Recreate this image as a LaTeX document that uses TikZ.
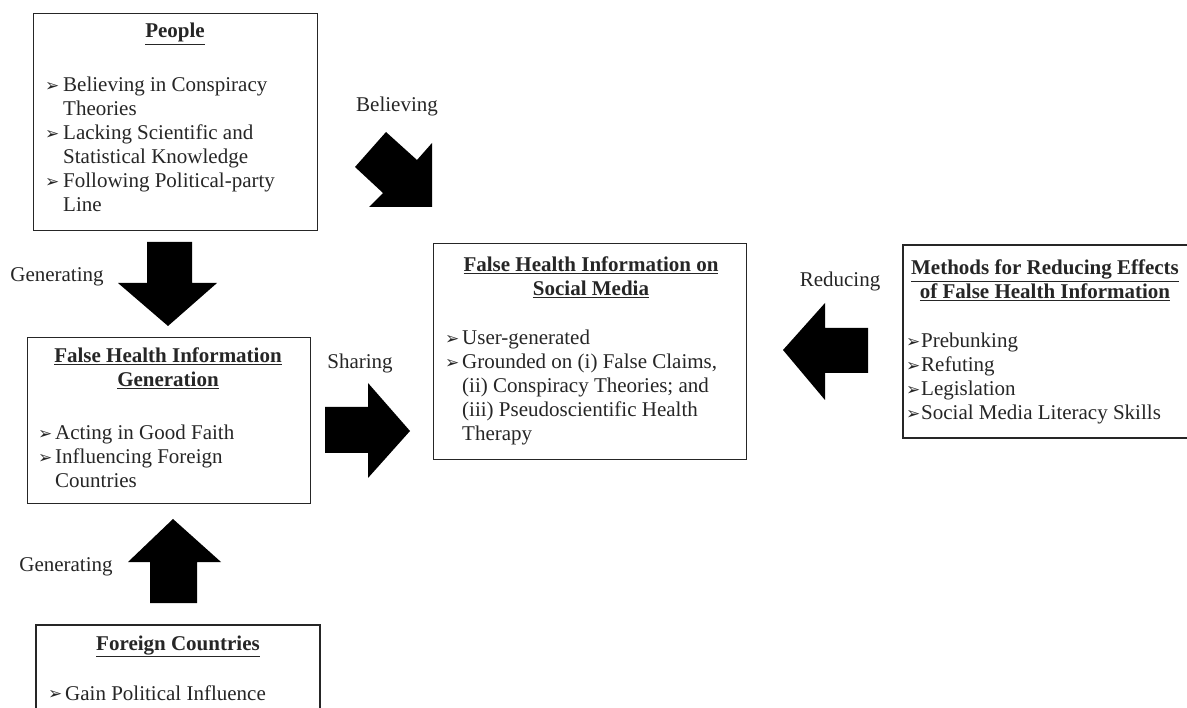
\documentclass[tikz,border=0pt]{standalone}
\usepackage{fontspec}
\setmainfont{Liberation Serif}
\newfontfamily\dejavu{DejaVu Sans}
\newcommand\bul[1]{\makebox[#1][l]{\dejavu\fontsize{17}{17}\selectfont\raisebox{0.5pt}{➢}}}
\newcommand\txtsize{\fontsize{21}{24}\selectfont}
\newcommand\ttl[1]{\textbf{\underline{#1}}}
\begin{document}
\begin{tikzpicture}[x=1pt,y=-1pt,
  box/.style={draw=black!85, line width=1.3pt},
  arr/.style={fill=black, draw=none},
  lbl/.style={font=\txtsize, text=black!85, inner sep=0pt},
  tx/.style={font=\txtsize, text=black!85, inner sep=0pt, anchor=base west},
  ttlnode/.style={font=\txtsize, text=black!85, inner sep=0pt, anchor=base}]
\useasboundingbox[fill=white] (0,0) rectangle (1187,708);

% boxes
\node[box, anchor=north west, minimum width=284pt, minimum height=217pt] (people) at (33,13) {};
\node[box, anchor=north west, minimum width=283pt, minimum height=166pt] (gen) at (27,337) {};
\node[box, anchor=north west, minimum width=313pt, minimum height=216pt] (central) at (433,243) {};
\draw[box] (36,715) coordinate (fbl) -- (36,625) coordinate (ftl) -- (320,625) coordinate (ftr) -- (320,715) coordinate (fbr);
\draw[box] (1195,245) coordinate (mtr) -- (903,245) coordinate (mtl) -- (903,438) coordinate (mbl) -- (1195,438) coordinate (mbr);

% people
\node[ttlnode] (peopleT) at (175,38) {\parbox[t]{260pt}{\centering\ttl{People}}};
\node[tx] (peopleL) at (45,92) {\parbox[t]{270pt}{\raggedright
  \bul{18pt}Believing in Conspiracy\\
  \hspace*{18pt}Theories\\
  \bul{18pt}Lacking Scientific and\\
  \hspace*{18pt}Statistical Knowledge\\
  \bul{18pt}Following Political-party\\
  \hspace*{18pt}Line}};

% generation
\node[ttlnode] (genT) at (168,363) {\parbox[t]{270pt}{\centering\ttl{False Health Information}\\ \ttl{Generation}}};
\node[tx] (genL) at (38,440) {\parbox[t]{270pt}{\raggedright
  \bul{17pt}Acting in Good Faith\\
  \bul{17pt}Influencing Foreign\\
  \hspace*{17pt}Countries}};

% foreign
\node[ttlnode] (forT) at (178,650) {\parbox[t]{270pt}{\centering\ttl{Foreign Countries}}};
\node[tx] (forL) at (48,700) {\parbox[t]{270pt}{\raggedright
  \bul{17pt}Gain Political Influence}};

% central
\node[ttlnode] (cenT) at (591,272) {\parbox[t]{300pt}{\centering\ttl{False Health Information on}\\ \ttl{Social Media}}};
\node[tx] (cenL) at (445,345) {\parbox[t]{300pt}{\raggedright
  \bul{17pt}User-generated\\
  \bul{17pt}Grounded on (i) False Claims,\\
  \hspace*{17pt}(ii) Conspiracy Theories; and\\
  \hspace*{17pt}(iii) Pseudoscientific Health\\
  \hspace*{17pt}Therapy}};

% methods
\node[ttlnode] (metT) at (1045,275) {\parbox[t]{300pt}{\centering\ttl{Methods for Reducing Effects}\\ \ttl{of False Health Information}}};
\node[tx] (metL) at (906,348) {\parbox[t]{290pt}{\raggedright
  \bul{15pt}Prebunking\\
  \bul{15pt}Refuting\\
  \bul{15pt}Legislation\\
  \bul{15pt}Social Media Literacy Skills}};

% block arrows
\fill[arr] (355,167) -- (386,132) -- (417,160) -- (432,143) -- (432,207) -- (369,207) -- (383,193) -- cycle;
\fill[arr] (147,242) -- (192,242) -- (192,283) -- (217,283) -- (168,326) -- (118,283) -- (147,283) -- cycle;
\fill[arr] (150,603) -- (197,603) -- (197,562) -- (221,562) -- (173,519) -- (128,562) -- (150,562) -- cycle;
\fill[arr] (325,407) -- (368,407) -- (368,383) -- (410,431) -- (368,478) -- (368,453) -- (325,453) -- cycle;
\fill[arr] (868,328) -- (825,328) -- (825,303) -- (783,350) -- (825,400) -- (825,373) -- (868,373) -- cycle;

% labels
\node[lbl] (lbBel) at (397,106) {Believing};
\node[lbl] (lbGen1) at (57,277) {Generating};
\node[lbl] (lbSha) at (360,363) {Sharing};
\node[lbl] (lbGen2) at (66,567) {Generating};
\node[lbl] (lbRed) at (840,281) {Reducing};
\end{tikzpicture}
\end{document}
